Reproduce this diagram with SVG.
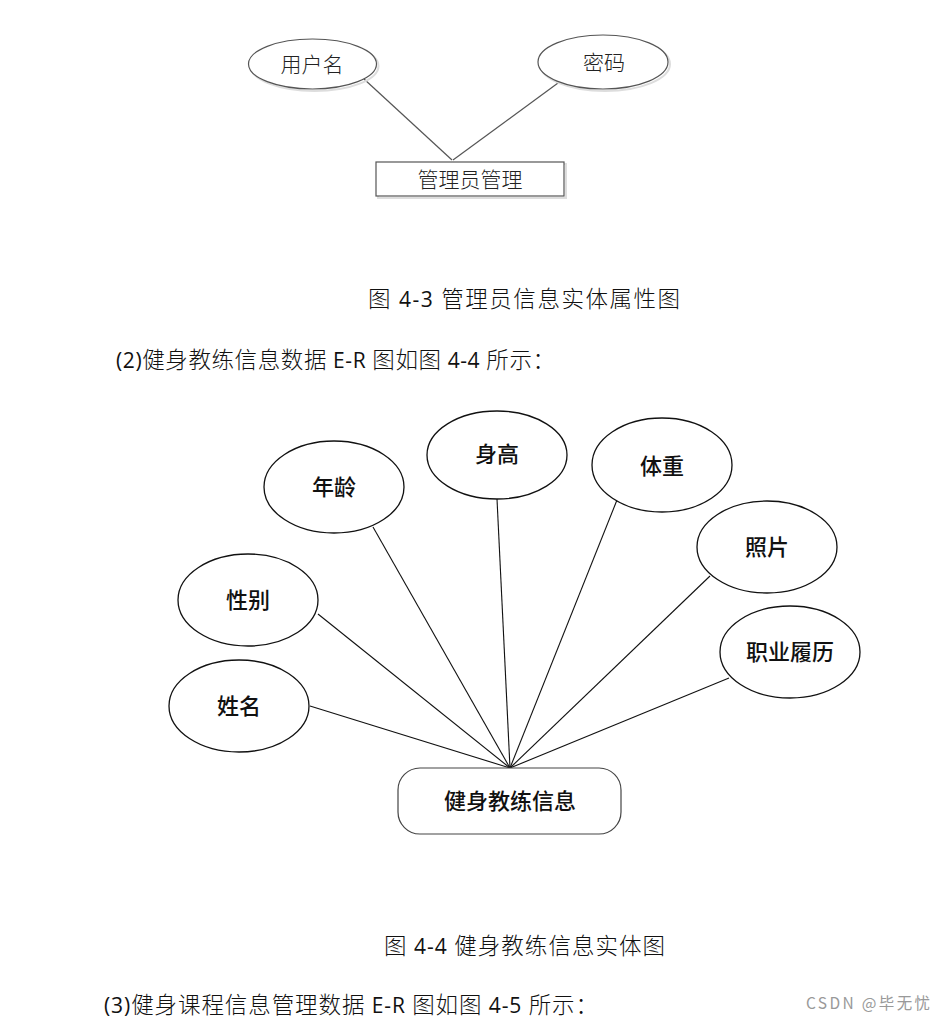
<svg xmlns="http://www.w3.org/2000/svg" width="946" height="1020" viewBox="0 0 946 1020">
<style>
.bg{fill:#fff}
.e1{fill:#fff;stroke:#555;stroke-width:1.2}
.sh{fill:none;stroke:#ddd;stroke-width:2}
.e2{fill:#fff;stroke:#111;stroke-width:1.3}
.c1{stroke:#555;stroke-width:1.2;fill:none}
.c2{stroke:#111;stroke-width:1.1;fill:none}
.t1{font-family:"Noto Sans CJK SC","Liberation Serif",serif;font-weight:300;font-size:21px;fill:#222;text-anchor:middle}
.t2{font-family:"Noto Sans CJK SC","Liberation Sans",sans-serif;font-weight:500;font-size:22px;fill:#111;text-anchor:middle}
.tx{font-family:"Open Sans","Noto Sans CJK SC",sans-serif;font-size:21px;fill:#111}
.cj{font-family:"Noto Sans CJK SC",sans-serif;font-weight:300;font-size:22.5px}
.wm{font-family:"Noto Sans CJK SC","Liberation Sans",sans-serif;font-size:15.5px;fill:#999}
</style>
<rect class="bg" x="0" y="0" width="946" height="1020"/>

<g id="connectors">
  <line class="c1" x1="364" y1="79" x2="452" y2="160"/>
  <line class="c1" x1="558" y1="83" x2="453" y2="160"/>
  <line class="c2" x1="310" y1="706" x2="510" y2="768"/>
  <line class="c2" x1="318" y1="614" x2="510" y2="768"/>
  <line class="c2" x1="373" y1="527" x2="510" y2="768"/>
  <line class="c2" x1="497" y1="499" x2="510" y2="768"/>
  <line class="c2" x1="617" y1="500" x2="510" y2="768"/>
  <line class="c2" x1="710" y1="576" x2="510" y2="768"/>
  <line class="c2" x1="729" y1="678" x2="510" y2="768"/>
</g>

<g id="n-username">
  <ellipse class="sh" cx="314.5" cy="66" rx="64" ry="25"/>
  <ellipse class="e1" cx="312.5" cy="64" rx="64" ry="25"/>
  <text class="t1" x="312" y="72">用户名</text>
</g>
<g id="n-password">
  <ellipse class="sh" cx="605" cy="64" rx="65" ry="27"/>
  <ellipse class="e1" cx="603" cy="62" rx="65" ry="27"/>
  <text class="t1" x="604" y="70">密码</text>
</g>
<g id="n-admin">
  <rect class="sh" x="378" y="164" width="188" height="34"/>
  <rect class="e1" x="376" y="162" width="188" height="34"/>
  <text class="t1" x="470" y="187">管理员管理</text>
</g>

<g id="cap43">
  <text class="tx" x="368" y="307" textLength="312" lengthAdjust="spacing"><tspan class="cj">图</tspan> 4-3  <tspan class="cj">管理员信息实体属性图</tspan></text>
</g>
<g id="para2">
  <text class="tx" x="116" y="368" textLength="439" lengthAdjust="spacing">(2)<tspan class="cj">健身教练信息数据</tspan> E-R <tspan class="cj">图如图</tspan> 4-4 <tspan class="cj">所示：</tspan></text>
</g>

<g id="n-age"><ellipse class="e2" cx="334" cy="487" rx="70" ry="46"/><text class="t2" x="334" y="495">年龄</text></g>
<g id="n-height"><ellipse class="e2" cx="497" cy="455" rx="70" ry="44"/><text class="t2" x="497" y="462">身高</text></g>
<g id="n-weight"><ellipse class="e2" cx="662" cy="465" rx="70" ry="47"/><text class="t2" x="662" y="474">体重</text></g>
<g id="n-photo"><ellipse class="e2" cx="767" cy="547" rx="70" ry="46"/><text class="t2" x="767" y="555">照片</text></g>
<g id="n-gender"><ellipse class="e2" cx="248" cy="600" rx="70" ry="46"/><text class="t2" x="248" y="608">性别</text></g>
<g id="n-career"><ellipse class="e2" cx="790" cy="652" rx="70" ry="46"/><text class="t2" x="790" y="660">职业履历</text></g>
<g id="n-name"><ellipse class="e2" cx="239" cy="706" rx="70" ry="46"/><text class="t2" x="239" y="714">姓名</text></g>

<g id="n-coach">
  <rect x="398" y="768" width="223" height="66" rx="22" ry="22" fill="#fff" stroke="#444" stroke-width="1.2"/>
  <text class="t2" x="510" y="809">健身教练信息</text>
</g>

<g id="cap44">
  <text class="tx" x="384" y="954" textLength="281" lengthAdjust="spacing"><tspan class="cj">图</tspan> 4-4 <tspan class="cj">健身教练信息实体图</tspan></text>
</g>
<g id="para3">
  <text class="tx" x="104" y="1013" textLength="494" lengthAdjust="spacing">(3)<tspan class="cj">健身课程信息管理数据</tspan> E-R <tspan class="cj">图如图</tspan> 4-5 <tspan class="cj">所示：</tspan></text>
</g>
<g id="watermark">
  <text class="wm" x="806" y="1009" textLength="124" lengthAdjust="spacing">CSDN @毕无忧</text>
</g>
</svg>
